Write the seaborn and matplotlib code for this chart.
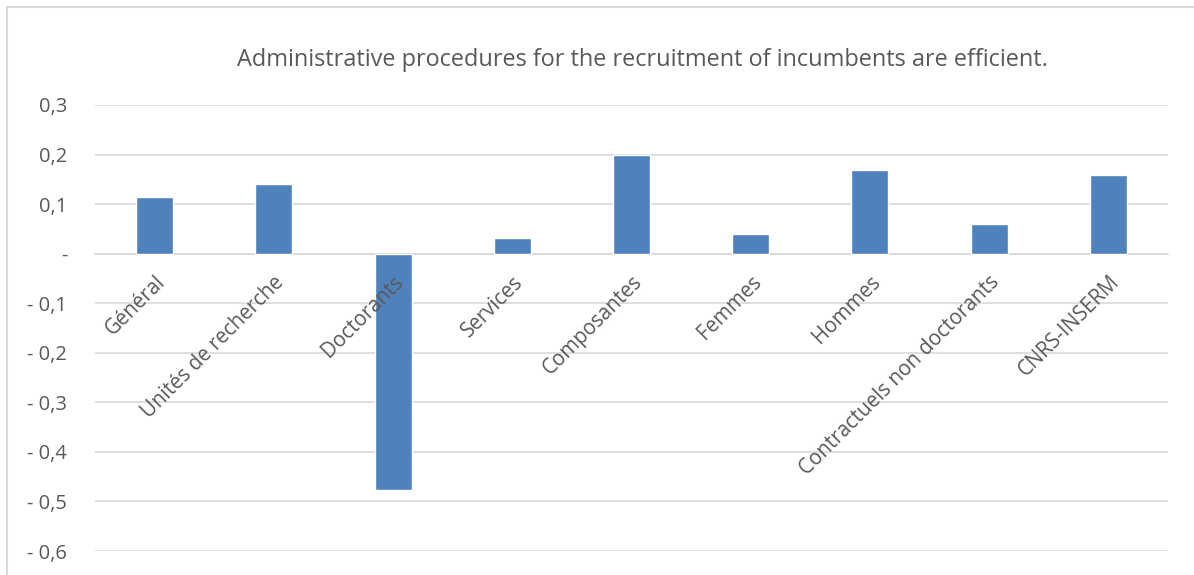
import matplotlib
matplotlib.use('Agg')
import matplotlib.pyplot as plt
from matplotlib.lines import Line2D
import pandas as pd
import seaborn as sns

# Données du graphique
categories = ['Général', 'Unités de recherche', 'Doctorants', 'Services', 'Composantes',
              'Femmes', 'Hommes', 'Contractuels non doctorants', 'CNRS-INSERM']
valeurs = [0.114, 0.141, -0.476, 0.032, 0.200, 0.040, 0.169, 0.059, 0.158]
y_ticks = [0.3, 0.2, 0.1, 0.0, -0.1, -0.2, -0.3, -0.4, -0.5, -0.6]
y_labels = ['0,3', '0,2', '0,1', '-', '- 0,1', '- 0,2', '- 0,3', '- 0,4', '- 0,5', '- 0,6']
titre = 'Administrative procedures for the recruitment of incumbents are efficient.'

df = pd.DataFrame({'cat': categories, 'val': valeurs})

sns.set_theme(style='white')
plt.rcParams['font.family'] = ['Open Sans', 'DejaVu Sans']

fig = plt.figure(figsize=(11.94, 5.75), dpi=100)
ax = fig.add_axes([95 / 1194, 1 - 551 / 575, (1168 - 95) / 1194, (551 - 105) / 575])

sns.barplot(data=df, x='cat', y='val', color='#4F81BD', width=0.31,
            saturation=1, ax=ax, zorder=3)

ax.set_ylim(-0.6, 0.3)
ax.set_yticks(y_ticks)
ax.set_yticklabels(y_labels)
ax.grid(axis='y', color='#D9D9D9', linewidth=1.2)
ax.set_axisbelow(True)
ax.yaxis.set_zorder(0)
ax.xaxis.set_zorder(5)  # libellés par-dessus les barres
for s in ['left', 'right', 'top']:
    ax.spines[s].set_visible(False)
ax.spines['bottom'].set_position(('data', 0))
ax.spines['bottom'].set_color('#D9D9D9')
ax.spines['bottom'].set_linewidth(1.2)
ax.spines['bottom'].set_zorder(1)

ax.tick_params(axis='y', length=0, pad=20, labelsize=14.5, labelcolor='#595959')
ax.tick_params(axis='x', length=0, pad=13, labelsize=14.8, labelcolor='#595959')
for lab in ax.get_xticklabels():
    lab.set_rotation(45)
    lab.set_ha('right')
    lab.set_va('top')
    lab.set_rotation_mode('anchor')

ax.set_xlabel('')
ax.set_ylabel('')
ax.set_title(titre, fontsize=16.9, color='#595959', pad=28, x=0.51)

# bordure de la zone du graphique
fig.add_artist(Line2D([7 / 1194, 7 / 1194], [0, 1 - 7 / 575], color='#D9D9D9', linewidth=1.5))
fig.add_artist(Line2D([7 / 1194, 1], [1 - 7 / 575, 1 - 7 / 575], color='#D9D9D9', linewidth=1.5))

fig.savefig('out.png', dpi=100)
